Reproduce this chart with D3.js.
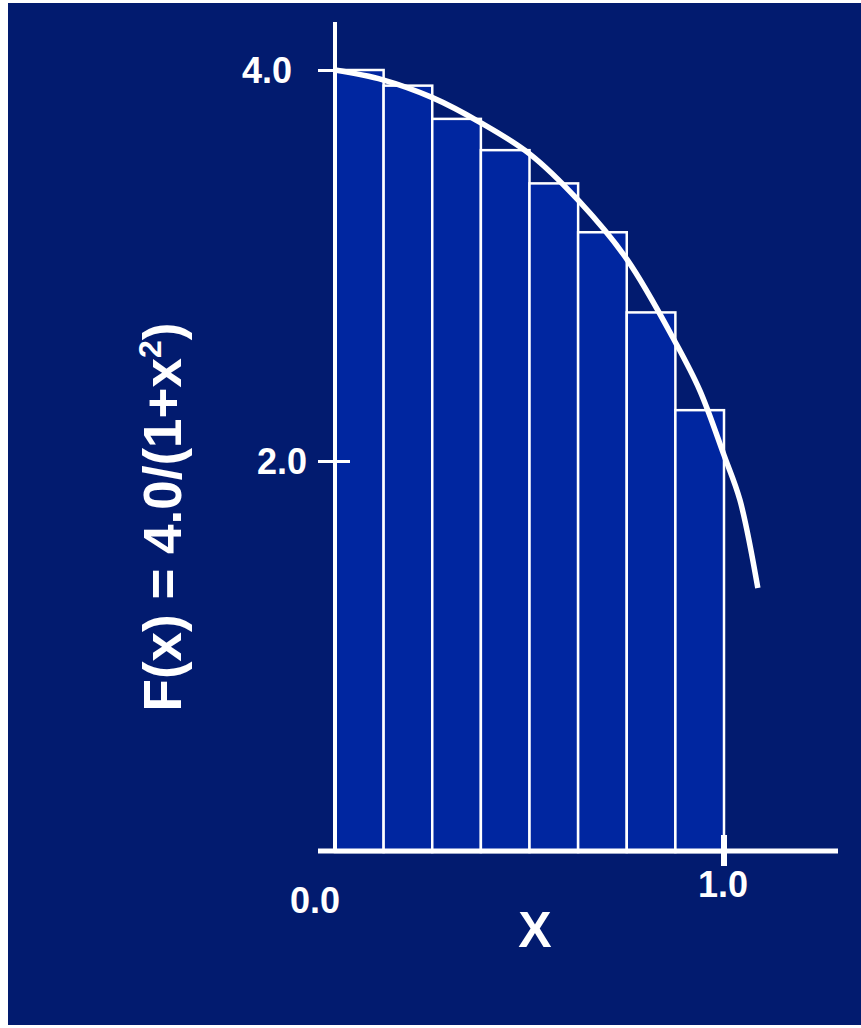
<!DOCTYPE html>
<html>
<head>
<meta charset="utf-8">
<script src="https://cdn.jsdelivr.net/npm/d3@7"></script>
<style>
  body { margin: 0; background: #ffffff; }
  text { font-family: "Liberation Sans", Arial, sans-serif; font-weight: bold; fill: #ffffff; }
</style>
</head>
<body>
<div id="container"></div>
<script>
const WIDTH = 861;
const HEIGHT = 1028;
const BG = "#021b6f";
const BAR_FILL = "#0026a0";

// rectangles: left edge, height
var barX = [0, 0.125, 0.25, 0.375, 0.5, 0.625, 0.75, 0.875];
var barHeights = [4.0, 3.92, 3.75, 3.59, 3.42, 3.17, 2.76, 2.26];
const BAR_WIDTH = 0.125;

// the curve
var curveX = [0, 0.123, 0.249, 0.375, 0.501, 0.627, 0.751, 0.877, 0.938, 1.0, 1.041, 1.087];
var curveY = [4.0, 3.95, 3.86, 3.73, 3.57, 3.33, 3.03, 2.60, 2.36, 2.03, 1.80, 1.35];

var yTicks = [4.0, 2.0];
var yTickLabels = ["4.0", "2.0"];
var xTicks = [0.0, 1.0];
var xTickLabels = ["0.0", "1.0"];

var XScale = d3.scaleLinear().domain([0, 1]).range([335, 724]);
var YScale = d3.scaleLinear().domain([0, 4]).range([852, 70]);

var drawBars = function (svg) {
    svg.selectAll(".bar").data(barX).enter().append("rect")
        .attr("class", "bar")
        .attr("x", function (d) { return XScale(d); })
        .attr("y", function (d, i) { return YScale(barHeights[i]); })
        .attr("width", function (d) { return XScale(d + BAR_WIDTH) - XScale(d); })
        .attr("height", function (d, i) { return YScale(0) - YScale(barHeights[i]); })
        .attr("fill", BAR_FILL)
        .attr("stroke", "#ffffff")
        .attr("stroke-width", 2.5);
};

var drawCurve = function (svg) {
    var pts = curveX.map(function (x, i) { return [x, curveY[i]]; });
    var line = d3.line()
        .x(function (d) { return XScale(d[0]); })
        .y(function (d) { return YScale(d[1]); })
        .curve(d3.curveCatmullRom.alpha(0.5));
    svg.append("path")
        .attr("d", line(pts))
        .attr("fill", "none")
        .attr("stroke", "#ffffff")
        .attr("stroke-width", 5.5)
        .attr("stroke-linecap", "butt");
};

var drawAxes = function (svg) {
    // y axis
    var yAxis = d3.axisLeft(YScale).tickValues(yTicks).tickSize(0).tickFormat("");
    var gy = svg.append("g").attr("transform", "translate(" + XScale(0) + ",0)").call(yAxis);
    gy.select(".domain").remove();
    svg.append("line")
        .attr("x1", XScale(0)).attr("x2", XScale(0))
        .attr("y1", 22).attr("y2", YScale(0))
        .attr("stroke", "#ffffff").attr("stroke-width", 4);
    gy.selectAll(".tick line")
        .attr("x1", -17).attr("x2", 15)
        .attr("stroke", "#ffffff").attr("stroke-width", 3);
    // labels sit a little differently in the original
    var yLabelRight = [292, 307];
    yTicks.forEach(function (t, i) {
        svg.append("text")
            .attr("x", yLabelRight[i]).attr("y", YScale(t) + 13)
            .attr("text-anchor", "end")
            .attr("font-size", 36)
            .text(yTickLabels[i]);
    });

    // x axis
    svg.append("line")
        .attr("x1", 318).attr("x2", 838)
        .attr("y1", 851).attr("y2", 851)
        .attr("stroke", "#ffffff").attr("stroke-width", 5);
    svg.append("line")
        .attr("x1", XScale(1)).attr("x2", XScale(1))
        .attr("y1", 835).attr("y2", 866)
        .attr("stroke", "#ffffff").attr("stroke-width", 6);
    var xLabelY = [913, 897];
    var xLabelShift = [-20, -1];
    xTicks.forEach(function (t, i) {
        svg.append("text")
            .attr("x", XScale(t) + xLabelShift[i]).attr("y", xLabelY[i])
            .attr("text-anchor", "middle")
            .attr("font-size", 36)
            .text(xTickLabels[i]);
    });

    svg.append("text")
        .attr("x", 535).attr("y", 947)
        .attr("text-anchor", "middle")
        .attr("font-size", 50)
        .text("X");

    var yl = svg.append("text")
        .attr("transform", "translate(181,517) rotate(-90)")
        .attr("text-anchor", "middle")
        .attr("font-size", 53);
    yl.append("tspan").text("F(x) = 4.0/(1+x");
    yl.append("tspan").attr("font-size", 32).attr("dy", -20).text("2");
    yl.append("tspan").attr("dy", 20).text(")");
};

var generateChart = function () {
    var svg = d3.select("#container").append("svg")
        .attr("width", WIDTH)
        .attr("height", HEIGHT);
    svg.append("rect")
        .attr("x", 8).attr("y", 3)
        .attr("width", WIDTH - 8).attr("height", HEIGHT - 6)
        .attr("fill", BG);
    drawBars(svg);
    drawCurve(svg);
    drawAxes(svg);
};

window.onload = generateChart;
</script>
</body>
</html>
